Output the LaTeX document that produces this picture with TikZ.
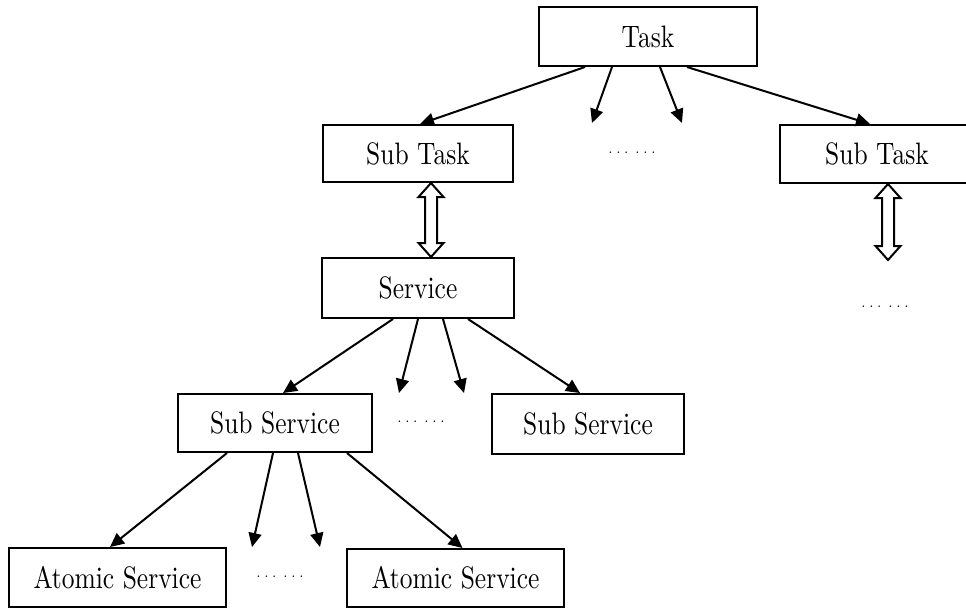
\documentclass[tikz,border=0pt]{standalone}
\usetikzlibrary{arrows.meta,calc}
\usepackage{graphicx}
\newcommand{\lbl}[1]{\scalebox{2.55}[3.1]{\fontsize{10}{12}\selectfont #1}}
\newcommand{\dd}{.\kern3.2pt.\kern3.2pt.}
\newcommand{\dblarr}[2]{%
  \draw[dbl] let \p1=(#1), \p2=(#2) in
    (\x1,\y1) -- (\x1+12.5,\y1-14) -- (\x1+6,\y1-14) -- (\x1+6,\y2+14) --
    (\x1+12.5,\y2+14) -- (\x1,\y2) -- (\x1-12.5,\y2+14) -- (\x1-6,\y2+14) --
    (\x1-6,\y1-14) -- (\x1-12.5,\y1-14) -- cycle;}
\begin{document}
\begin{tikzpicture}[x=1pt,y=1pt,
  box/.style={draw, line width=2pt, inner sep=0pt},
  arr/.style={line width=2pt, -{Triangle[length=14pt,width=13pt]}},
  dbl/.style={draw, line width=2pt, line join=miter},
  dotsnode/.style={inner sep=0pt, font=\fontsize{19}{22}\selectfont}]
\useasboundingbox (0,0) rectangle (966,-608);

% boxes
\node[box, minimum width=218pt, minimum height=59pt] (task) at (648,-36.5) {\lbl{Task}};
\node[box, minimum width=190pt, minimum height=57pt] (st1) at (418,-153.5) {\lbl{Sub Task}};
\node[box, minimum width=194pt, minimum height=58pt] (st2) at (877,-154) {\lbl{Sub Task}};
\node[box, minimum width=192pt, minimum height=60pt] (sv) at (418,-288) {\lbl{Service}};
\node[box, minimum width=194pt, minimum height=58pt] (ss1) at (275,-423) {\lbl{Sub Service}};
\node[box, minimum width=192pt, minimum height=60pt] (ss2) at (588,-424) {\lbl{Sub Service}};
\node[box, minimum width=217pt, minimum height=59pt] (at1) at (117.5,-577.5) {\lbl{Atomic Service}};
\node[box, minimum width=217pt, minimum height=58pt] (at2) at (455.5,-578) {\lbl{Atomic Service}};

% ellipses
\node[dotsnode] (dt1) at (632,-153) {\dd\kern6.5pt\dd};
\node[dotsnode] (dt2) at (885,-307) {\dd\kern6.5pt\dd};
\node[dotsnode] (dt3) at (421,-422) {\dd\kern6.5pt\dd};
\node[dotsnode] (dt4) at (280,-577) {\dd\kern6.5pt\dd};

% free arrow ends
\coordinate (e1) at (592,-123);
\coordinate (e2) at (682,-123);
\coordinate (e3) at (399,-393);
\coordinate (e4) at (464,-393);
\coordinate (e5) at (252,-547);
\coordinate (e6) at (320,-547);
\coordinate (d2b) at (888,-260);

% Task arrows
\draw[arr] ([xshift=-63pt]task.south) -- ([xshift=2pt]st1.north);
\draw[arr] ([xshift=-36pt]task.south) -- (e1);
\draw[arr] ([xshift=12pt]task.south) -- (e2);
\draw[arr] ([xshift=39pt]task.south) -- ([xshift=-7pt]st2.north);

% Service arrows
\draw[arr] ([xshift=-25pt]sv.south) -- ([xshift=8pt]ss1.north);
\draw[arr] (sv.south) -- (e3);
\draw[arr] ([xshift=25pt]sv.south) -- (e4);
\draw[arr] ([xshift=50pt]sv.south) -- ([xshift=-8pt]ss2.north);

% Sub Service arrows
\draw[arr] ([xshift=-48pt]ss1.south) -- ([xshift=-7.5pt]at1.north);
\draw[arr] ([xshift=-2pt]ss1.south) -- (e5);
\draw[arr] ([xshift=23pt]ss1.south) -- (e6);
\draw[arr] ([xshift=72pt]ss1.south) -- ([xshift=7pt]at2.north);

% double arrows
\dblarr{$(st1.south)+(13,0)$}{$(sv.north)+(13,0)$}
\dblarr{$(st2.south)+(11,0)$}{d2b}
\end{tikzpicture}
\end{document}
